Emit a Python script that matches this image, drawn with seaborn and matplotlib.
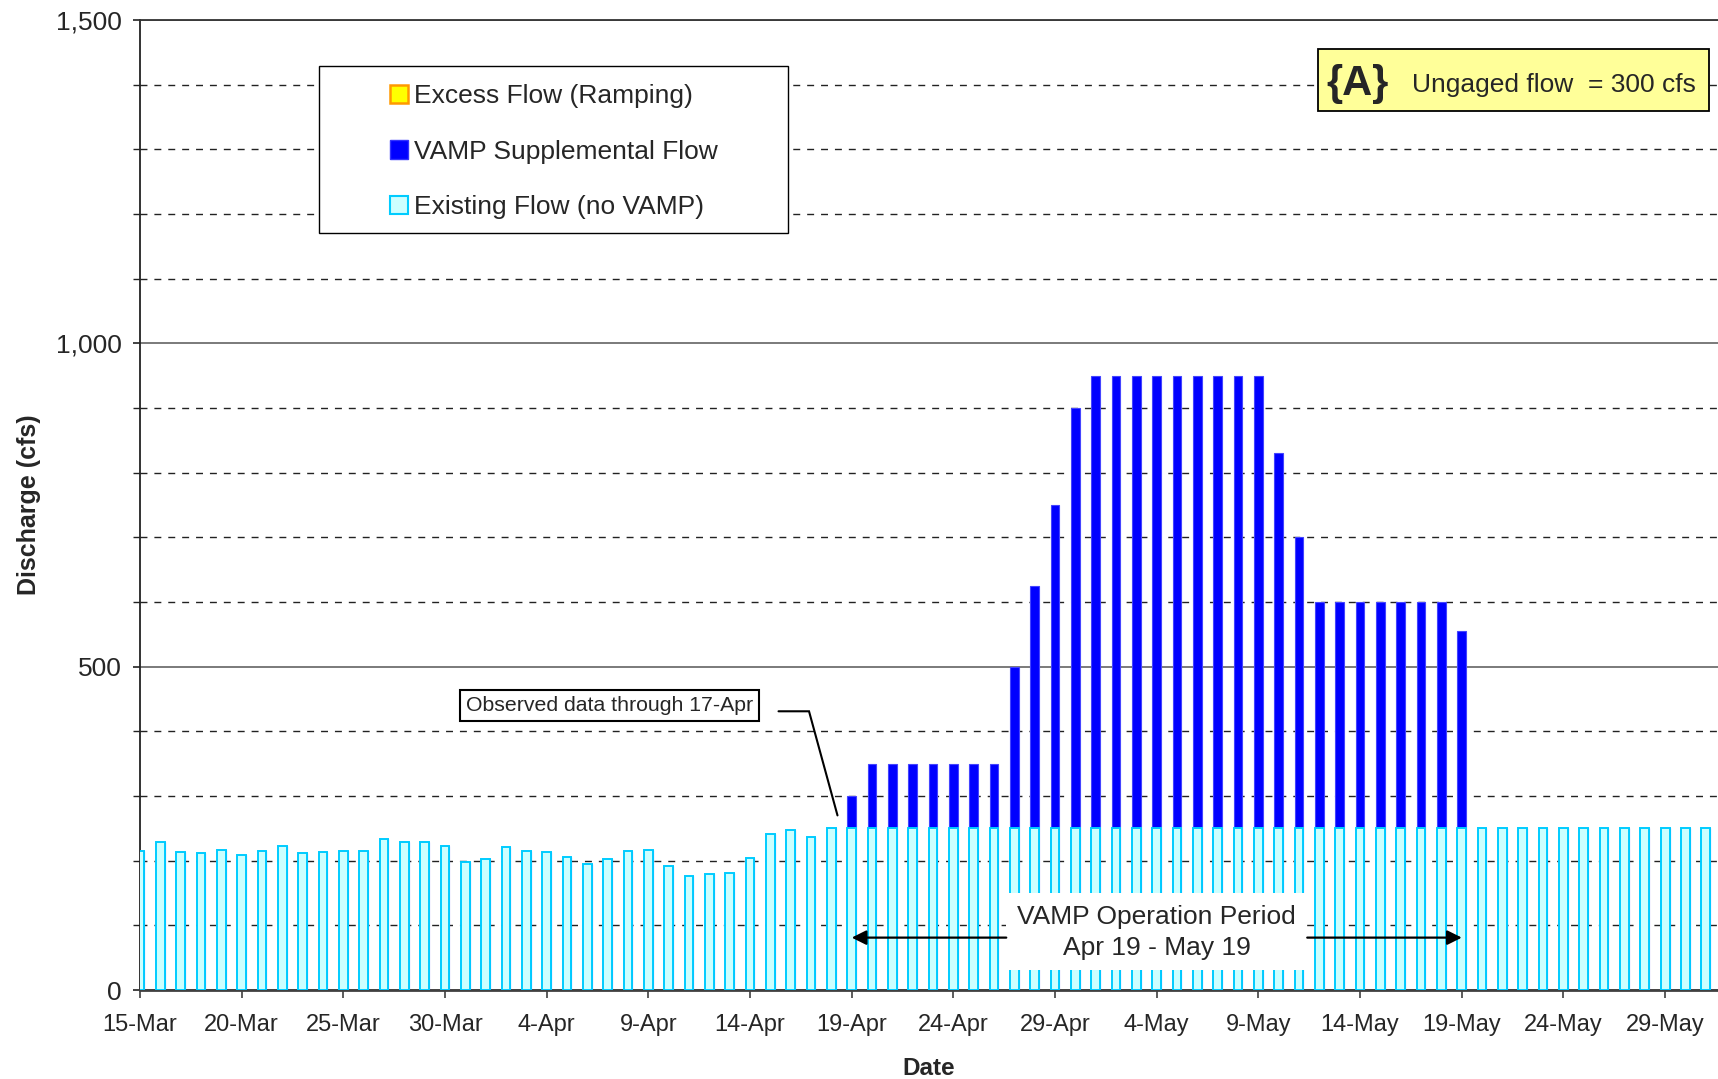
import numpy as np
import pandas as pd
import matplotlib
matplotlib.use("Agg")
import matplotlib.pyplot as plt
from matplotlib.patches import Patch, Rectangle
from matplotlib.ticker import MultipleLocator, FuncFormatter
import seaborn as sns

# daily dates, 15-Mar .. 31-May
dates = pd.date_range("2007-03-15", "2007-05-31", freq="D")
day_labels = [f"{d.day}-{d.strftime('%b')}" for d in dates]

# existing flow (no VAMP), cfs
existing_mar = [215, 229, 213, 212, 217, 208, 215, 223, 212, 213, 215, 215,
                234, 229, 229, 223, 198]
existing_apr_obs = [202, 221, 215, 213, 206, 195, 203, 215, 217, 192, 176, 179,
                    181, 204, 241, 248, 237, 251]
existing_forecast = [250] * 43
existing_flow = existing_mar + existing_apr_obs + existing_forecast

# VAMP supplemental flow, cfs (19-Apr .. 19-May)
vamp_period = [50, 100, 100, 100, 100, 100, 100, 100, 250, 375, 500, 650,
               700, 700, 700, 700, 700, 700, 700, 700, 700, 580, 450,
               350, 350, 350, 350, 350, 350, 350, 305]
vamp_flow = [0] * 35 + vamp_period + [0] * 12
excess_flow = [0] * len(day_labels)

df = pd.DataFrame({
    "day": day_labels,
    "existing": existing_flow,
    "vamp": vamp_flow,
    "excess": excess_flow,
})
df["total"] = df["existing"] + df["vamp"] + df["excess"]

sns.set_style("white")
plt.rcParams["font.family"] = ["Liberation Sans", "DejaVu Sans"]

fig = plt.figure(figsize=(17.18, 10.79), dpi=100)
ax = fig.add_axes([140 / 1718, 89 / 1079, 1578 / 1718, 970 / 1079])

# stacked bars: total (blue) behind, existing (light cyan) in front
sns.barplot(data=df, x="day", y="total", order=day_labels, color="#0000FF",
            saturation=1, width=0.43, edgecolor="#4444FF", linewidth=0.8,
            errorbar=None, ax=ax, zorder=3)
sns.barplot(data=df, x="day", y="existing", order=day_labels, color="#CCFFFF",
            saturation=1, width=0.43, edgecolor="#00CCFF", linewidth=1.4,
            errorbar=None, ax=ax, zorder=4)

ax.set_xlim(0, 77.6)
ax.set_ylim(0, 1500)
ax.set_xticks(range(0, len(day_labels), 5))
ax.set_xticklabels(day_labels[::5])
ax.yaxis.set_major_locator(MultipleLocator(500))
ax.yaxis.set_minor_locator(MultipleLocator(100))
ax.yaxis.set_major_formatter(FuncFormatter(lambda v, _: f"{int(v):,}"))

ax.grid(axis="y", which="major", color="#707070", linestyle="-", linewidth=1.3, zorder=0)
ax.grid(axis="y", which="minor", color="#222222", linestyle=(0, (5, 5)), linewidth=1.0, zorder=0)
ax.set_axisbelow(True)

ax.spines["right"].set_visible(False)
ax.spines["top"].set_color("#333333")
ax.spines["top"].set_linewidth(1.3)
ax.spines["left"].set_color("#222222")
ax.spines["left"].set_linewidth(1.3)
ax.spines["bottom"].set_color("#404040")
ax.spines["bottom"].set_linewidth(2)

ax.tick_params(axis="x", which="major", direction="out", length=6, width=1.2,
               color="#404040", labelsize=17, pad=11, bottom=True)
ax.tick_params(axis="y", which="major", direction="out", length=5, width=1.2,
               color="#222222", labelsize=19, pad=8, left=True)
ax.tick_params(axis="y", which="minor", direction="out", length=5, width=1.0,
               color="#222222", left=True)

ax.set_xlabel("Date", fontsize=17.5, fontweight="bold", va="top")
ax.xaxis.set_label_coords(0.5, -0.069)
ax.set_ylabel("Discharge (cfs)", fontsize=18, fontweight="bold", va="center")
ax.yaxis.set_label_coords(-0.0705, 0.5)

# legend with its own white frame
ax.add_patch(Rectangle((0.1134, 0.7804), 0.2972, 0.1722, transform=ax.transAxes,
                       facecolor="white", edgecolor="black", linewidth=1.0, zorder=6))
handles = [
    Patch(facecolor="#FFFF00", edgecolor="#FF9900", linewidth=1.8, label="Excess Flow (Ramping)"),
    Patch(facecolor="#0000FF", edgecolor="#3333FF", linewidth=1.0, label="VAMP Supplemental Flow"),
    Patch(facecolor="#CCFFFF", edgecolor="#00CCFF", linewidth=1.5, label="Existing Flow (no VAMP)"),
]
leg = ax.legend(handles=handles, loc="upper left", bbox_to_anchor=(0.1584, 0.934),
                frameon=False, fontsize=19, handlelength=0.68, handleheight=0.68,
                handletextpad=0.25, labelspacing=1.2, borderpad=0, borderaxespad=0)
leg.set_zorder(7)

# {A} ungaged flow box
ax.add_patch(Rectangle((0.7465, 0.9062), 0.2478, 0.0639, transform=ax.transAxes,
                       facecolor="#FFFF99", edgecolor="black", linewidth=1.3, zorder=6))
ax.text(0.7718, 0.9345, "{A}", transform=ax.transAxes, ha="center", va="center",
        fontsize=30, fontweight="bold", zorder=7)
ax.text(0.8061, 0.9325, "Ungaged flow  = 300 cfs", transform=ax.transAxes,
        ha="left", va="center", fontsize=19, zorder=7)

# observed data note
ax.text(0.2975, 0.2933, "Observed data through 17-Apr", transform=ax.transAxes,
        ha="center", va="center", fontsize=15.3, zorder=7,
        bbox=dict(boxstyle="square,pad=0.28", facecolor="white", edgecolor="black", linewidth=1.5))
ax.plot([31.4, 32.9, 34.3], [431, 431, 270], color="black", linewidth=1.5, zorder=7,
        solid_joinstyle="miter")

# VAMP operation period
ax.add_patch(Rectangle((42.6, 31), 14.8, 119, facecolor="white", edgecolor="none", zorder=6))
ax.text(50.0, 89, "VAMP Operation Period\nApr 19 - May 19", ha="center", va="center",
        fontsize=19, linespacing=1.4, zorder=7)
for start, end in [(42.6, 35), (57.4, 65)]:
    ax.annotate("", xy=(end, 81), xytext=(start, 81),
                arrowprops=dict(arrowstyle="-|>", color="black", lw=1.6,
                                mutation_scale=22, shrinkA=0, shrinkB=0),
                zorder=7)

fig.savefig("out.png", dpi=100)
